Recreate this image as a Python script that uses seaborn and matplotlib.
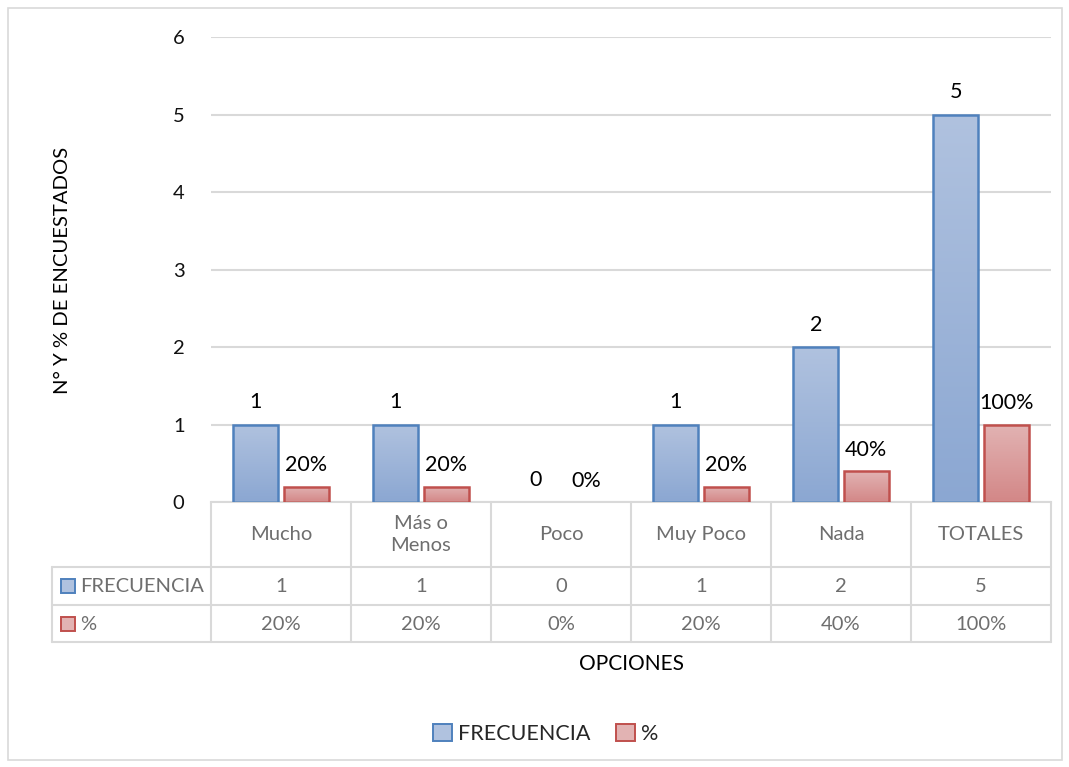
import matplotlib
matplotlib.use("Agg")
import matplotlib.pyplot as plt
import seaborn as sns
import numpy as np
import pandas as pd
from matplotlib.patches import Patch, Rectangle
from matplotlib.lines import Line2D
from matplotlib.colors import LinearSegmentedColormap

categories = ["Mucho", "Más o\nMenos", "Poco", "Muy Poco", "Nada", "TOTALES"]
frecuencia = [1, 1, 0, 1, 2, 5]
porcentaje = [0.20, 0.20, 0.0, 0.20, 0.40, 1.00]
pct_labels = ["20%", "20%", "0%", "20%", "40%", "100%"]
series_names = ["FRECUENCIA", "%"]
y_ticks = [0, 1, 2, 3, 4, 5, 6]

df = pd.DataFrame({
    "cat": categories * 2,
    "val": frecuencia + porcentaje,
    "serie": [series_names[0]] * len(categories) + [series_names[1]] * len(categories),
})

sns.set_style("white")
plt.rcParams['font.family'] = ['Lato', 'DejaVu Sans']

W, H = 1069, 767
fig = plt.figure(figsize=(W / 100, H / 100), dpi=100)
ax = fig.add_axes([211 / W, 1 - 502 / H, 840 / W, 465 / H])

blue_edge = "#4F81BD"
red_edge = "#C0504D"
blue_top, blue_bot = "#B0C2DF", "#8BA7D2"
red_top, red_bot = "#E2B3B3", "#D38787"

sns.barplot(data=df, x="cat", y="val", hue="serie", order=categories,
            hue_order=series_names, palette=[blue_bot, red_bot],
            width=0.72, gap=0.1, ax=ax, legend=False)

ax.set_ylim(0, 6)
ax.set_xlim(-0.5, len(categories) - 0.5)
ax.set_yticks(y_ticks)
ax.set_yticklabels([str(t) for t in y_ticks], fontsize=14.5, color="#111111")
ax.tick_params(axis="y", length=0, pad=19)
ax.set_xticks([])
ax.set_xlabel("")
ax.set_ylabel("")
for s in ["top", "right", "left"]:
    ax.spines[s].set_visible(False)
ax.spines["bottom"].set_color("#D9D9D9")
ax.spines["bottom"].set_linewidth(1.5)
ax.grid(axis="y", color="#D9D9D9", linewidth=1.5)
ax.set_axisbelow(True)

cm_b = LinearSegmentedColormap.from_list("b", [blue_bot, blue_top])
cm_r = LinearSegmentedColormap.from_list("r", [red_bot, red_top])

patches = [p for p in ax.patches]
n = len(categories)
for i, p in enumerate(patches):
    is_blue = i < n
    x0 = p.get_x()
    w, h = p.get_width(), p.get_height()
    if h <= 0:
        p.set_visible(False)
        continue
    grad = np.linspace(0, 1, 256).reshape(-1, 1)
    im = ax.imshow(grad, cmap=cm_b if is_blue else cm_r, aspect="auto",
                   extent=[x0, x0 + w, 0, h], origin="lower", zorder=2)
    im.set_clip_path(p)
    p.set_facecolor("none")
    p.set_edgecolor(blue_edge if is_blue else red_edge)
    p.set_linewidth(1.8)
    p.set_zorder(3)
ax.set_xlim(-0.5, len(categories) - 0.5)
ax.set_ylim(0, 6)

# data labels
for i in range(n):
    pb = patches[i]
    pr = patches[i + n]
    xb = pb.get_x() + pb.get_width() / 2
    xr = pr.get_x() + pr.get_width() / 2
    ax.annotate(str(frecuencia[i]), (xb, frecuencia[i]), xytext=(0, 9),
                textcoords="offset points", ha="center", va="bottom",
                fontsize=15.5, color="black")
    ax.annotate(pct_labels[i], (xr, porcentaje[i]), xytext=(0, 8),
                textcoords="offset points", ha="center", va="bottom",
                fontsize=15.5, color="black")

# data table
tc = "#D9D9D9"
txt = "#6E6E6E"
def fx(px):
    return px / W
def fy(py):
    return 1 - py / H

x_edges = [211 + 140 * k for k in range(n + 1)]
for yy, xa in [(567, 52), (605, 52), (642, 52)]:
    fig.add_artist(Line2D([fx(xa), fx(1051)], [fy(yy), fy(yy)], color=tc, lw=1.5))
for k, xe in enumerate(x_edges):
    fig.add_artist(Line2D([fx(xe), fx(xe)], [fy(502), fy(642)], color=tc, lw=1.5))
fig.add_artist(Line2D([fx(52), fx(52)], [fy(567), fy(642)], color=tc, lw=1.5))

tfs = 14.5
for k, c in enumerate(categories):
    cx = fx(x_edges[k] + 70)
    fig.text(cx, fy(534.5), c, ha="center", va="center", fontsize=tfs,
             color=txt, linespacing=1.4)
    fig.text(cx, fy(586), str(frecuencia[k]), ha="center", va="center",
             fontsize=tfs, color=txt)
    fig.text(cx, fy(624), pct_labels[k], ha="center", va="center",
             fontsize=tfs, color=txt)

for yy, name, fc, ec in [(586, series_names[0], blue_top, blue_edge),
                         (624, series_names[1], red_top, red_edge)]:
    fig.add_artist(Rectangle((fx(61), fy(yy + 7)), 14 / W, 14 / H,
                             facecolor=fc, edgecolor=ec, lw=1.4))
    fig.text(fx(80), fy(yy), name, ha="left", va="center", fontsize=tfs,
             color=txt)

fig.text(fx(631), fy(664), "OPCIONES", ha="center", va="center",
         fontsize=15, color="black")
fig.text(fx(63), fy(270), "N° Y % DE ENCUESTADOS", ha="center", va="center",
         rotation=90, fontsize=14.6, color="black")

handles = [Patch(facecolor=blue_top, edgecolor=blue_edge, lw=1.4),
           Patch(facecolor=red_top, edgecolor=red_edge, lw=1.4)]
fig.legend(handles, series_names, loc="center", bbox_to_anchor=(fx(546), fy(734)),
           ncol=2, frameon=False, fontsize=15.5, handlelength=0.85,
           handleheight=0.85, handletextpad=0.3, columnspacing=1.2)

fig.add_artist(Rectangle((fx(8), fy(760)), (1062 - 8) / W, (760 - 8) / H,
                         facecolor="none", edgecolor="#D9D9D9", lw=1.2))

fig.savefig("out.png", dpi=100, facecolor="white")
